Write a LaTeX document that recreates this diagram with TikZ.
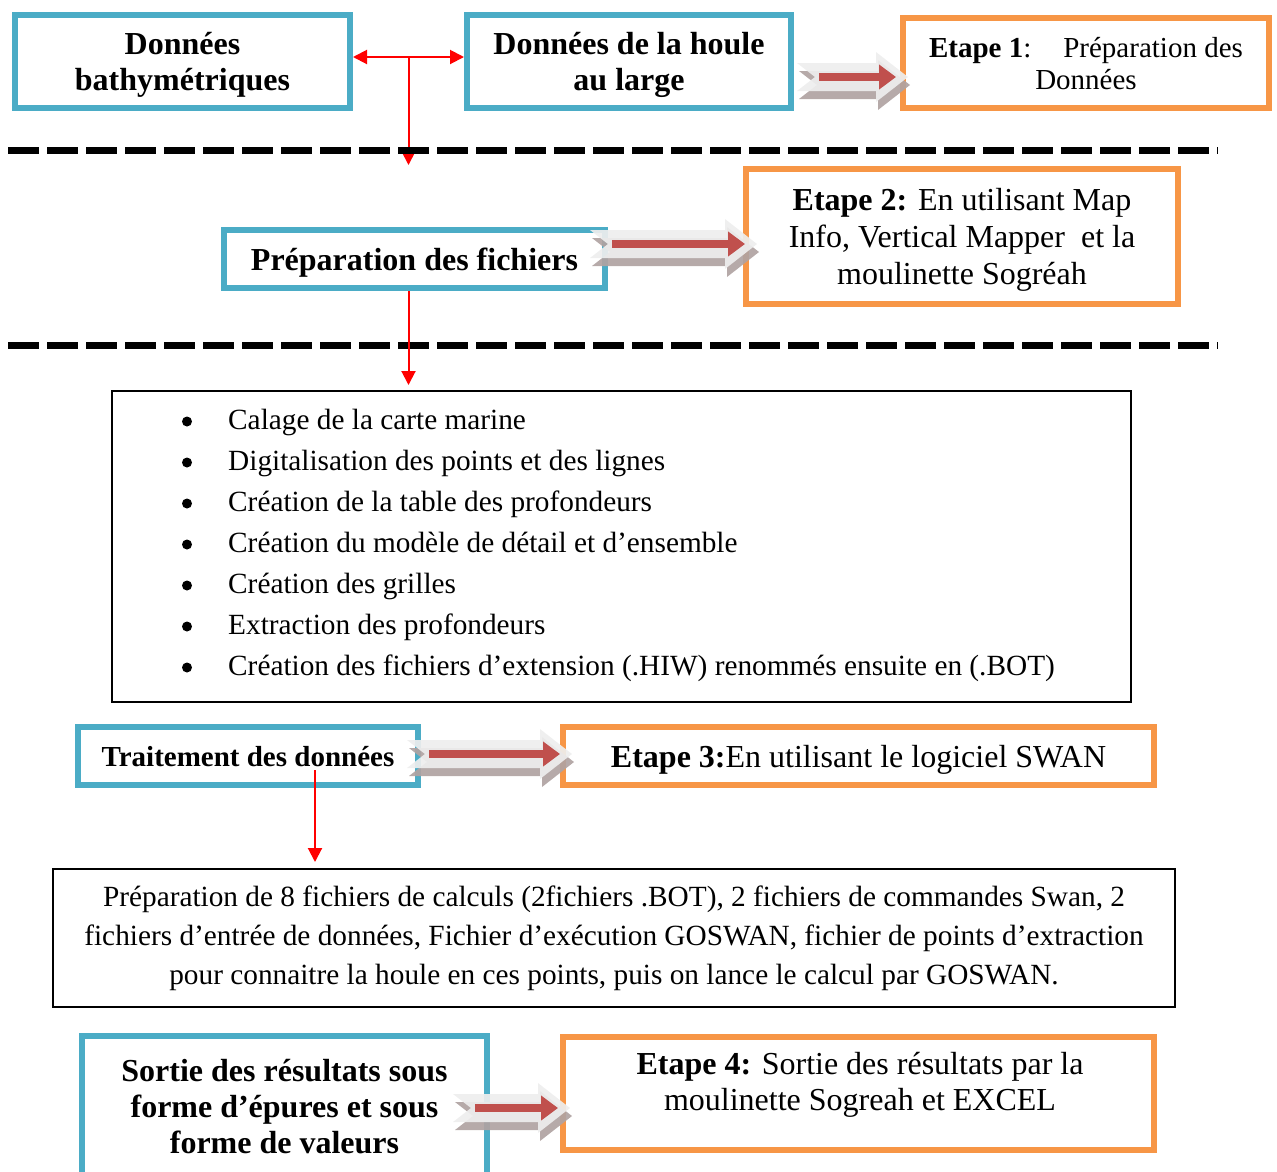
\documentclass[tikz,border=0pt]{standalone}
\usepackage{fontspec}
\setmainfont{Liberation Serif}
\usetikzlibrary{arrows.meta,calc}

\definecolor{bleu}{HTML}{4BACC6}
\definecolor{etorange}{HTML}{F79646}
\definecolor{rougef}{HTML}{C0504D}
\definecolor{clair}{HTML}{EEEEEE}
\definecolor{ombre}{HTML}{B0A3A2}

\tikzset{
  bbox/.style={draw=bleu, line width=6pt, align=center, inner sep=0pt, text depth=0pt,
    font=\fontsize{32}{36}\selectfont\bfseries},
  obox/.style={draw=etorange, line width=6pt, align=center, inner sep=0pt, text depth=0pt,
    font=\fontsize{32}{37}\selectfont},
  nbox/.style={draw, line width=2pt, inner sep=0pt},
  lien/.style={red, line width=2pt, -{Triangle[length=14pt,width=14pt]}},
  sep/.style={line width=7pt, dash pattern=on 31pt off 8pt},
  puce/.style={circle, fill, inner sep=0pt, minimum size=10pt},
}

% grosse fleche grise avec ombre et fleche rouge
\newcommand\fatarrow[2]{%
  \path (#1) coordinate (fa-s) (#2) coordinate (fa-t);
  \coordinate (fa-e) at (fa-t |- fa-s);
  \foreach \dx/\dy/\col in {2/8/ombre, 0/0/clair}
    \fill[\col, opacity=0.92] ($(fa-s)+(\dx,\dy-14)$) -- ($(fa-e)+(\dx-32,\dy-14)$)
      -- ($(fa-e)+(\dx-32,\dy-25)$) -- ($(fa-e)+(\dx,\dy)$)
      -- ($(fa-e)+(\dx-32,\dy+25)$) -- ($(fa-e)+(\dx-32,\dy+14)$)
      -- ($(fa-s)+(\dx,\dy+14)$) -- ($(fa-s)+(\dx+18,\dy)$) -- cycle;
  \draw[rougef, line width=8pt, -{Triangle[length=17pt,width=24pt]}]
    ($(fa-s)+(22,0)$) -- ($(fa-e)+(-12,0)$);
}

\begin{document}
\begin{tikzpicture}[x=1pt, y=-1pt]
\useasboundingbox (0,0) rectangle (1277,1171);

% etape 1
\node[bbox, minimum width=335pt, minimum height=93pt] (bathy) at (182.5,61.5) {Données\\bathymétriques};
\node[bbox, minimum width=324pt, minimum height=93pt] (houle) at (629,61.5) {Données de la houle\\au large};
\node[obox, minimum width=366pt, minimum height=90pt, font=\fontsize{29}{32}\selectfont] (E1) at (1086,63)
  {\textbf{Etape 1}:\hspace{1.1em}Préparation des\\Données};
\draw[lien, {Triangle[length=14pt,width=14pt]}-{Triangle[length=14pt,width=14pt]}]
  ([yshift=4.5pt]bathy.east) -- coordinate[pos=.5] (j) ([yshift=4.5pt]houle.west);
\coordinate (j2) at ($(j)+(0,108)$);
\draw[lien] (j) -- (j2);
\draw[sep] (8,150) -- (1218,150);

% etape 2
\node[bbox, minimum width=381pt, minimum height=58pt] (fich) at (414.5,259) {Préparation des fichiers};
\node[obox, minimum width=432pt, minimum height=135pt] (E2) at (962,236.5)
  {\textbf{Etape 2:} En utilisant Map\\Info, Vertical Mapper\ \ et la\\moulinette Sogréah};
\draw[sep] (8,345) -- (1218,345);
\node[nbox, minimum width=1019pt, minimum height=311pt] (liste) at (621.5,546.5) {};
\draw[lien, shorten >=5pt] (fich.south -| j) -- (liste.north -| j);
\foreach \ligne [count=\i] in {Calage de la carte marine,
    Digitalisation des points et des lignes,
    Création de la table des profondeurs,
    Création du modèle de détail et d’ensemble,
    Création des grilles,
    Extraction des profondeurs,
    Création des fichiers d’extension (.HIW) renommés ensuite en (.BOT)} {
  \node[puce] (p\i) at (187,380.5+41*\i) {};
  \node[anchor=base west, inner sep=0pt, font=\fontsize{29.3}{35}\selectfont] (l\i) at (228,388+41*\i) {\ligne};
}

% etape 3
\node[bbox, minimum width=340pt, minimum height=58pt, font=\fontsize{29}{34}\selectfont\bfseries] (trait) at (248,756) {Traitement des données};
\node[obox, minimum width=591pt, minimum height=58pt] (E3) at (858.5,756)
  {\textbf{Etape 3:}En utilisant le logiciel SWAN};
\node[nbox, minimum width=1122pt, minimum height=138pt, align=center, font=\fontsize{29.3}{39}\selectfont] (texte) at (614,938)
  {Préparation de 8 fichiers de calculs (2fichiers .BOT), 2 fichiers de commandes Swan, 2\\
   fichiers d’entrée de données, Fichier d’exécution GOSWAN, fichier de points d’extraction\\
   pour connaitre la houle en ces points, puis on lance le calcul par GOSWAN.};
\coordinate (t1) at ($(trait.south)+(67,-18)$);
\draw[lien, shorten >=6pt] (t1) -- (texte.north -| t1);

% etape 4
\node[bbox, minimum width=405pt, minimum height=140pt] (sortie) at (284.5,1106)
  {Sortie des résultats sous\\forme d’épures et sous\\forme de valeurs};
\node[obox, minimum width=591pt, minimum height=113pt] (E4) at (858.5,1093.5) {};
\node[align=center, inner sep=0pt, font=\fontsize{32}{36}\selectfont] (E4t) at (860,1085)
  {\textbf{Etape 4:} Sortie des résultats par la\\moulinette Sogreah et EXCEL};

% grosses fleches
\fatarrow{[xshift=3pt,yshift=-15.5pt]houle.east}{[xshift=8pt]E1.west}
\fatarrow{[xshift=-18pt,yshift=15pt]fich.east}{[xshift=14pt]E2.west}
\fatarrow{[xshift=-14pt,yshift=2pt]trait.east}{[xshift=12pt]E3.west}
\fatarrow{[xshift=-37pt,yshift=-2pt]sortie.east}{[xshift=10pt]E4.west}
\end{tikzpicture}
\end{document}
